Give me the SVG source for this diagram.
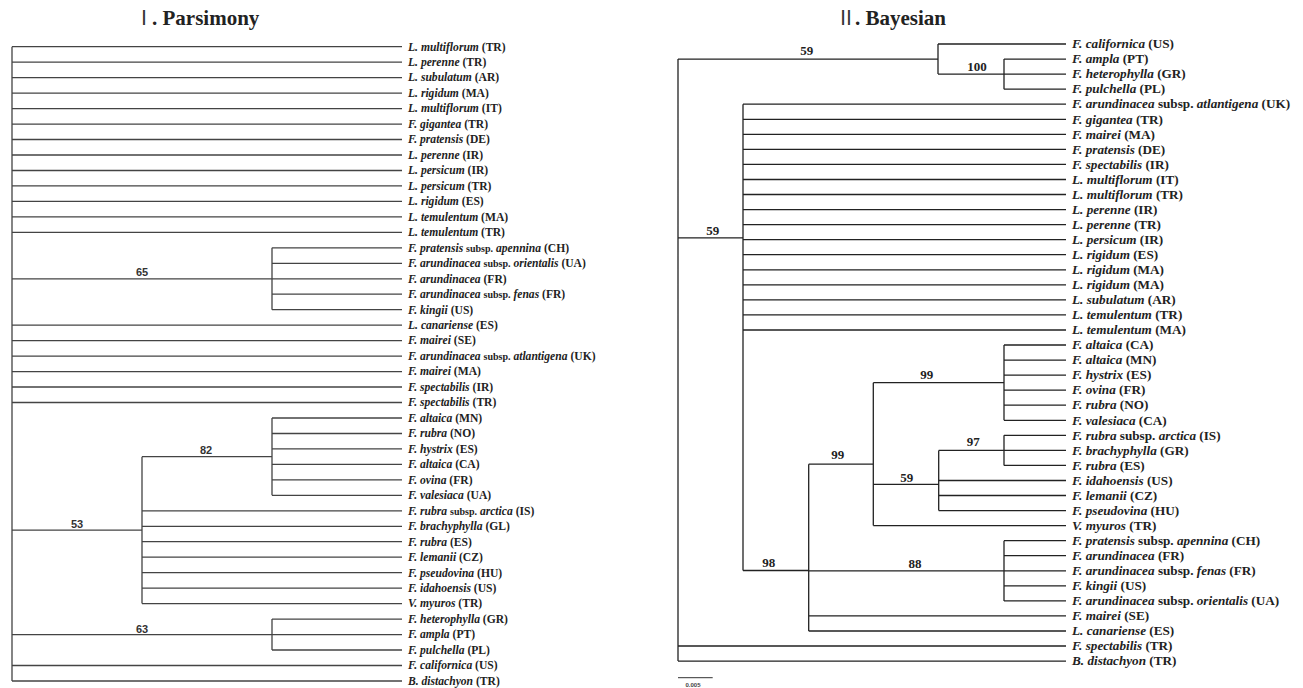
<svg xmlns="http://www.w3.org/2000/svg" width="1303" height="688" viewBox="0 0 1303 688">
<style>
.bg{fill:#fff}
.lp{fill:none;stroke:#444;stroke-width:1.3}
.lb{fill:none;stroke:#222;stroke-width:1.3}
.title{font-family:"Liberation Serif",serif;font-weight:bold;font-size:21px;fill:#222}
.rn{font-family:"Noto Sans CJK SC","DejaVu Sans",sans-serif;font-size:20px;fill:#333}
.tp{font-family:"Liberation Serif",serif;font-weight:bold;font-size:11.6px;fill:#222}
.tb{font-family:"Liberation Serif",serif;font-weight:bold;font-size:13.2px;fill:#222}
.i{font-style:italic}
.ss{font-size:10px}
.sp{font-family:"Liberation Sans",sans-serif;font-weight:bold;font-size:11px;fill:#333;text-anchor:middle}
.sb{font-family:"Liberation Serif",serif;font-weight:bold;font-size:13px;fill:#222;text-anchor:middle}
.scale{font-family:"Liberation Sans",sans-serif;font-size:6px;font-weight:bold;fill:#444;text-anchor:middle}
</style>
<rect class="bg" x="0" y="0" width="1303" height="688"/>
<g id="titles">
<text class="rn" x="134" y="25">Ⅰ</text><text class="title" x="152" y="25">. Parsimony</text>
<text class="rn" x="836" y="25">Ⅱ</text><text class="title" x="855" y="25">. Bayesian</text>
</g>
<g id="connectors">
<path class="lp" d="M12 46.7V681
M12 46.7H402 M12 62.2H402 M12 77.6H402 M12 93.1H402 M12 108.6H402 M12 124.1H402 M12 139.5H402 M12 155H402 M12 170.5H402 M12 185.9H402 M12 201.4H402 M12 216.9H402 M12 232.3H402
M12 278.8H272 M272 247.8V309.7 M272 247.8H402 M272 263.3H402 M272 278.8H402 M272 294.2H402 M272 309.7H402
M12 325.2H402 M12 340.6H402 M12 356.1H402 M12 371.6H402 M12 387H402 M12 402.5H402
M12 530.1H142 M142 456.7V603.6 M142 456.7H272 M272 418V495.3 M272 418H402 M272 433.5H402 M272 448.9H402 M272 464.4H402 M272 479.9H402 M272 495.3H402
M142 510.8H402 M142 526.3H402 M142 541.7H402 M142 557.2H402 M142 572.7H402 M142 588.1H402 M142 603.6H402
M12 634.6H272 M272 619.1V650 M272 619.1H402 M272 634.6H402 M272 650H402
M12 665.5H402 M12 681H402"/>
<path class="lb" d="M678 59.05V661.1
M678 59.05H938 M938 44V74.1 M938 44H1066 M938 74.1H1066 M1004 59.1V89.2 M1004 59.1H1066 M1004 89.2H1066
M678 237.9H743 M743 104.2V570.5
M743 104.2H1066 M743 119.3H1066 M743 134.3H1066 M743 149.4H1066 M743 164.4H1066 M743 179.5H1066 M743 194.5H1066 M743 209.6H1066 M743 224.6H1066 M743 239.7H1066 M743 254.7H1066 M743 269.8H1066 M743 284.8H1066 M743 299.9H1066 M743 314.9H1066 M743 330H1066
M743 570.5H808.7 M808.7 464.2V631 M808.7 615.9H1066 M808.7 631H1066
M808.7 464.2H873.3 M873.3 382.7V525.6 M873.3 525.6H1066
M873.3 382.7H1004 M1004 345V420.3 M1004 345H1066 M1004 360.1H1066 M1004 375.1H1066 M1004 390.2H1066 M1004 405.2H1066 M1004 420.3H1066
M873.3 484.3H938.7 M938.7 450.4V510.6 M938.7 480.5H1066 M938.7 495.5H1066 M938.7 510.6H1066
M938.7 450.4H1004 M1004 435.3V465.4 M1004 435.3H1066 M1004 450.4H1066 M1004 465.4H1066
M808.7 570.8H1004 M1004 540.7V600.9 M1004 540.7H1066 M1004 555.7H1066 M1004 570.8H1066 M1004 585.8H1066 M1004 600.9H1066
M678 646H1066 M678 661.1H1066"/>
<text class="sp" x="142" y="276">65</text>
<text class="sp" x="206" y="454">82</text>
<text class="sp" x="77" y="528">53</text>
<text class="sp" x="142" y="633">63</text>
<text class="sb" x="806.7" y="54.5">59</text>
<text class="sb" x="977" y="70.5">100</text>
<text class="sb" x="712.7" y="234.5">59</text>
<text class="sb" x="926.7" y="378.5">99</text>
<text class="sb" x="973.3" y="445.5">97</text>
<text class="sb" x="837.7" y="458.5">99</text>
<text class="sb" x="906.7" y="481.5">59</text>
<text class="sb" x="768.7" y="566.5">98</text>
<text class="sb" x="915" y="568">88</text>
</g>
<g id="parsimony-tips" class="tp">
<g id="p1"><text x="408" y="50.5"><tspan class="i">L. multiflorum</tspan> (TR)</text></g>
<g id="p2"><text x="408" y="66"><tspan class="i">L. perenne</tspan> (TR)</text></g>
<g id="p3"><text x="408" y="81.4"><tspan class="i">L. subulatum</tspan> (AR)</text></g>
<g id="p4"><text x="408" y="96.9"><tspan class="i">L. rigidum</tspan> (MA)</text></g>
<g id="p5"><text x="408" y="112.4"><tspan class="i">L. multiflorum</tspan> (IT)</text></g>
<g id="p6"><text x="408" y="127.9"><tspan class="i">F. gigantea</tspan> (TR)</text></g>
<g id="p7"><text x="408" y="143.3"><tspan class="i">F. pratensis</tspan> (DE)</text></g>
<g id="p8"><text x="408" y="158.8"><tspan class="i">L. perenne</tspan> (IR)</text></g>
<g id="p9"><text x="408" y="174.3"><tspan class="i">L. persicum</tspan> (IR)</text></g>
<g id="p10"><text x="408" y="189.7"><tspan class="i">L. persicum</tspan> (TR)</text></g>
<g id="p11"><text x="408" y="205.2"><tspan class="i">L. rigidum</tspan> (ES)</text></g>
<g id="p12"><text x="408" y="220.7"><tspan class="i">L. temulentum</tspan> (MA)</text></g>
<g id="p13"><text x="408" y="236.1"><tspan class="i">L. temulentum</tspan> (TR)</text></g>
<g id="p14"><text x="408" y="251.6"><tspan class="i">F. pratensis</tspan> <tspan class="ss">subsp.</tspan> <tspan class="i">apennina</tspan> (CH)</text></g>
<g id="p15"><text x="408" y="267.1"><tspan class="i">F. arundinacea</tspan> <tspan class="ss">subsp.</tspan> <tspan class="i">orientalis</tspan> (UA)</text></g>
<g id="p16"><text x="408" y="282.6"><tspan class="i">F. arundinacea</tspan> (FR)</text></g>
<g id="p17"><text x="408" y="298"><tspan class="i">F. arundinacea</tspan> <tspan class="ss">subsp.</tspan> <tspan class="i">fenas</tspan> (FR)</text></g>
<g id="p18"><text x="408" y="313.5"><tspan class="i">F. kingii</tspan> (US)</text></g>
<g id="p19"><text x="408" y="329"><tspan class="i">L. canariense</tspan> (ES)</text></g>
<g id="p20"><text x="408" y="344.4"><tspan class="i">F. mairei</tspan> (SE)</text></g>
<g id="p21"><text x="408" y="359.9"><tspan class="i">F. arundinacea</tspan> <tspan class="ss">subsp.</tspan> <tspan class="i">atlantigena</tspan> (UK)</text></g>
<g id="p22"><text x="408" y="375.4"><tspan class="i">F. mairei</tspan> (MA)</text></g>
<g id="p23"><text x="408" y="390.8"><tspan class="i">F. spectabilis</tspan> (IR)</text></g>
<g id="p24"><text x="408" y="406.3"><tspan class="i">F. spectabilis</tspan> (TR)</text></g>
<g id="p25"><text x="408" y="421.8"><tspan class="i">F. altaica</tspan> (MN)</text></g>
<g id="p26"><text x="408" y="437.3"><tspan class="i">F. rubra</tspan> (NO)</text></g>
<g id="p27"><text x="408" y="452.7"><tspan class="i">F. hystrix</tspan> (ES)</text></g>
<g id="p28"><text x="408" y="468.2"><tspan class="i">F. altaica</tspan> (CA)</text></g>
<g id="p29"><text x="408" y="483.7"><tspan class="i">F. ovina</tspan> (FR)</text></g>
<g id="p30"><text x="408" y="499.1"><tspan class="i">F. valesiaca</tspan> (UA)</text></g>
<g id="p31"><text x="408" y="514.6"><tspan class="i">F. rubra</tspan> <tspan class="ss">subsp.</tspan> <tspan class="i">arctica</tspan> (IS)</text></g>
<g id="p32"><text x="408" y="530.1"><tspan class="i">F. brachyphylla</tspan> (GL)</text></g>
<g id="p33"><text x="408" y="545.5"><tspan class="i">F. rubra</tspan> (ES)</text></g>
<g id="p34"><text x="408" y="561"><tspan class="i">F. lemanii</tspan> (CZ)</text></g>
<g id="p35"><text x="408" y="576.5"><tspan class="i">F. pseudovina</tspan> (HU)</text></g>
<g id="p36"><text x="408" y="591.9"><tspan class="i">F. idahoensis</tspan> (US)</text></g>
<g id="p37"><text x="408" y="607.4"><tspan class="i">V. myuros</tspan> (TR)</text></g>
<g id="p38"><text x="408" y="622.9"><tspan class="i">F. heterophylla</tspan> (GR)</text></g>
<g id="p39"><text x="408" y="638.4"><tspan class="i">F. ampla</tspan> (PT)</text></g>
<g id="p40"><text x="408" y="653.8"><tspan class="i">F. pulchella</tspan> (PL)</text></g>
<g id="p41"><text x="408" y="669.3"><tspan class="i">F. californica</tspan> (US)</text></g>
<g id="p42"><text x="408" y="684.8"><tspan class="i">B. distachyon</tspan> (TR)</text></g>
</g>
<g id="bayesian-tips" class="tb">
<g id="b1"><text x="1072" y="48.2"><tspan class="i">F. californica</tspan> (US)</text></g>
<g id="b2"><text x="1072" y="63.3"><tspan class="i">F. ampla</tspan> (PT)</text></g>
<g id="b3"><text x="1072" y="78.3"><tspan class="i">F. heterophylla</tspan> (GR)</text></g>
<g id="b4"><text x="1072" y="93.4"><tspan class="i">F. pulchella</tspan> (PL)</text></g>
<g id="b5"><text x="1072" y="108.4"><tspan class="i">F. arundinacea</tspan> subsp. <tspan class="i">atlantigena</tspan> (UK)</text></g>
<g id="b6"><text x="1072" y="123.5"><tspan class="i">F. gigantea</tspan> (TR)</text></g>
<g id="b7"><text x="1072" y="138.5"><tspan class="i">F. mairei</tspan> (MA)</text></g>
<g id="b8"><text x="1072" y="153.6"><tspan class="i">F. pratensis</tspan> (DE)</text></g>
<g id="b9"><text x="1072" y="168.6"><tspan class="i">F. spectabilis</tspan> (IR)</text></g>
<g id="b10"><text x="1072" y="183.7"><tspan class="i">L. multiflorum</tspan> (IT)</text></g>
<g id="b11"><text x="1072" y="198.7"><tspan class="i">L. multiflorum</tspan> (TR)</text></g>
<g id="b12"><text x="1072" y="213.8"><tspan class="i">L. perenne</tspan> (IR)</text></g>
<g id="b13"><text x="1072" y="228.8"><tspan class="i">L. perenne</tspan> (TR)</text></g>
<g id="b14"><text x="1072" y="243.9"><tspan class="i">L. persicum</tspan> (IR)</text></g>
<g id="b15"><text x="1072" y="258.9"><tspan class="i">L. rigidum</tspan> (ES)</text></g>
<g id="b16"><text x="1072" y="274"><tspan class="i">L. rigidum</tspan> (MA)</text></g>
<g id="b17"><text x="1072" y="289"><tspan class="i">L. rigidum</tspan> (MA)</text></g>
<g id="b18"><text x="1072" y="304.1"><tspan class="i">L. subulatum</tspan> (AR)</text></g>
<g id="b19"><text x="1072" y="319.1"><tspan class="i">L. temulentum</tspan> (TR)</text></g>
<g id="b20"><text x="1072" y="334.2"><tspan class="i">L. temulentum</tspan> (MA)</text></g>
<g id="b21"><text x="1072" y="349.2"><tspan class="i">F. altaica</tspan> (CA)</text></g>
<g id="b22"><text x="1072" y="364.3"><tspan class="i">F. altaica</tspan> (MN)</text></g>
<g id="b23"><text x="1072" y="379.3"><tspan class="i">F. hystrix</tspan> (ES)</text></g>
<g id="b24"><text x="1072" y="394.4"><tspan class="i">F. ovina</tspan> (FR)</text></g>
<g id="b25"><text x="1072" y="409.4"><tspan class="i">F. rubra</tspan> (NO)</text></g>
<g id="b26"><text x="1072" y="424.5"><tspan class="i">F. valesiaca</tspan> (CA)</text></g>
<g id="b27"><text x="1072" y="439.5"><tspan class="i">F. rubra</tspan> subsp. <tspan class="i">arctica</tspan> (IS)</text></g>
<g id="b28"><text x="1072" y="454.6"><tspan class="i">F. brachyphylla</tspan> (GR)</text></g>
<g id="b29"><text x="1072" y="469.6"><tspan class="i">F. rubra</tspan> (ES)</text></g>
<g id="b30"><text x="1072" y="484.7"><tspan class="i">F. idahoensis</tspan> (US)</text></g>
<g id="b31"><text x="1072" y="499.7"><tspan class="i">F. lemanii</tspan> (CZ)</text></g>
<g id="b32"><text x="1072" y="514.8"><tspan class="i">F. pseudovina</tspan> (HU)</text></g>
<g id="b33"><text x="1072" y="529.8"><tspan class="i">V. myuros</tspan> (TR)</text></g>
<g id="b34"><text x="1072" y="544.9"><tspan class="i">F. pratensis</tspan> subsp. <tspan class="i">apennina</tspan> (CH)</text></g>
<g id="b35"><text x="1072" y="559.9"><tspan class="i">F. arundinacea</tspan> (FR)</text></g>
<g id="b36"><text x="1072" y="575"><tspan class="i">F. arundinacea</tspan> subsp. <tspan class="i">fenas</tspan> (FR)</text></g>
<g id="b37"><text x="1072" y="590"><tspan class="i">F. kingii</tspan> (US)</text></g>
<g id="b38"><text x="1072" y="605.1"><tspan class="i">F. arundinacea</tspan> subsp. <tspan class="i">orientalis</tspan> (UA)</text></g>
<g id="b39"><text x="1072" y="620.1"><tspan class="i">F. mairei</tspan> (SE)</text></g>
<g id="b40"><text x="1072" y="635.2"><tspan class="i">L. canariense</tspan> (ES)</text></g>
<g id="b41"><text x="1072" y="650.2"><tspan class="i">F. spectabilis</tspan> (TR)</text></g>
<g id="b42"><text x="1072" y="665.3"><tspan class="i">B. distachyon</tspan> (TR)</text></g>
</g>
<g id="scale-bar">
<path d="M678 677.7H712.7" fill="none" stroke="#333" stroke-width="1"/>
<text class="scale" x="693" y="687">0.005</text>
</g>
</svg>
